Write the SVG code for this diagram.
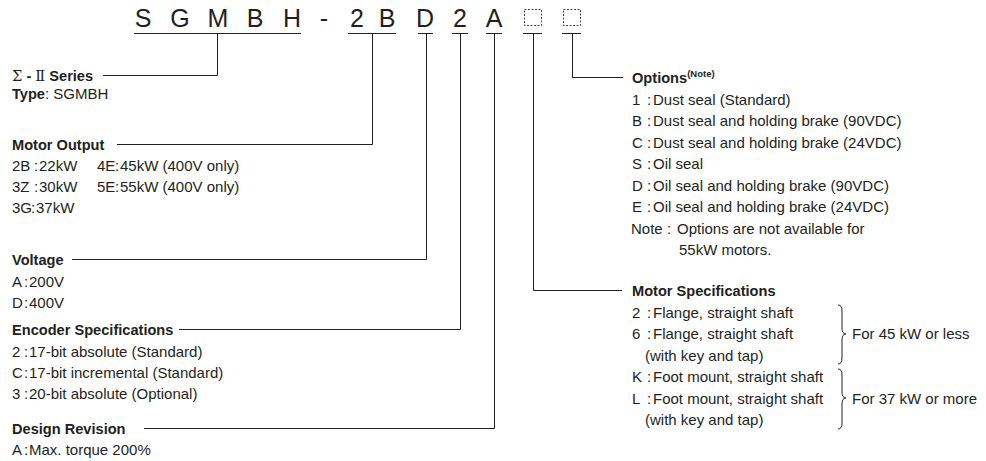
<svg xmlns="http://www.w3.org/2000/svg" width="986" height="461" viewBox="0 0 986 461">
<style>
  text { font-family: "Liberation Sans", Arial, Helvetica, sans-serif; fill: #231f20; }
  .code { font-size: 25px; text-anchor: middle; }
  .h { font-size: 14.6px; font-weight: bold; }
  .t { font-size: 15px; }
  .sup { font-size: 9.5px; font-weight: bold; }
  .serif { font-family: "DejaVu Serif", "Liberation Serif", serif; font-weight: normal; }
  .ln { fill: none; stroke: #231f20; stroke-width: 1; }
  .box { fill: none; stroke: #444; stroke-width: 1; stroke-dasharray: 2 1.5; }
</style>
<rect width="986" height="461" fill="#ffffff"/>

<g id="model-code">
  <text class="code" x="143" y="27">S</text>
  <text class="code" x="180" y="27">G</text>
  <text class="code" x="218" y="27">M</text>
  <text class="code" x="255" y="27">B</text>
  <text class="code" x="292" y="27">H</text>
  <text class="code" x="324" y="27">-</text>
  <text class="code" x="357" y="27">2</text>
  <text class="code" x="387" y="27">B</text>
  <text class="code" x="425" y="27">D</text>
  <text class="code" x="460" y="27">2</text>
  <text class="code" x="494" y="27">A</text>
  <rect class="box" x="524.5" y="9.5" width="17" height="16"/>
  <rect class="box" x="563.5" y="9.5" width="17" height="16"/>
</g>

<g id="connectors">
  <path class="ln" d="M134,33.5 H301 M348,33.5 H396 M418,33.5 H433 M452,33.5 H468 M486,33.5 H502 M523,33.5 H542 M562,33.5 H581"/>
  <path class="ln" d="M217.5,33.5 V75.5 H103"/>
  <path class="ln" d="M372.5,33.5 V144.5 H117"/>
  <path class="ln" d="M426.5,33.5 V259.5 H72"/>
  <path class="ln" d="M460.5,33.5 V329.5 H179"/>
  <path class="ln" d="M494.5,33.5 V428.5 H144"/>
  <path class="ln" d="M533.5,33.5 V290.5 H622"/>
  <path class="ln" d="M572.5,33.5 V77.5 H623"/>
</g>

<g id="series">
  <text class="h" x="12" y="81"><tspan class="serif">Σ</tspan> - <tspan class="serif">Ⅱ</tspan> Series</text>
  <text class="t" x="12" y="99"><tspan font-weight="bold" font-size="14.6">Type</tspan>: SGMBH</text>
</g>

<g id="motor-output">
  <text class="h" x="12" y="150">Motor Output</text>
  <text class="t" y="171"><tspan x="12">2B</tspan><tspan x="34">:</tspan><tspan x="39">22kW</tspan><tspan x="97">4E</tspan><tspan x="115">:</tspan><tspan x="120">45kW (400V only)</tspan></text>
  <text class="t" y="192"><tspan x="12">3Z</tspan><tspan x="34">:</tspan><tspan x="39">30kW</tspan><tspan x="97">5E</tspan><tspan x="115">:</tspan><tspan x="120">55kW (400V only)</tspan></text>
  <text class="t" y="213"><tspan x="12">3G</tspan><tspan x="31">:</tspan><tspan x="36">37kW</tspan></text>
</g>

<g id="voltage">
  <text class="h" x="12" y="265">Voltage</text>
  <text class="t" y="286.5"><tspan x="12">A</tspan><tspan x="24">:</tspan><tspan x="29">200V</tspan></text>
  <text class="t" y="307.5"><tspan x="12">D</tspan><tspan x="24">:</tspan><tspan x="29">400V</tspan></text>
</g>

<g id="encoder">
  <text class="h" x="12" y="335">Encoder Specifications</text>
  <text class="t" y="356.5"><tspan x="12">2</tspan><tspan x="24">:</tspan><tspan x="29">17-bit absolute (Standard)</tspan></text>
  <text class="t" y="377.5"><tspan x="12">C</tspan><tspan x="24">:</tspan><tspan x="29">17-bit incremental (Standard)</tspan></text>
  <text class="t" y="398.5"><tspan x="12">3</tspan><tspan x="24">:</tspan><tspan x="29">20-bit absolute (Optional)</tspan></text>
</g>

<g id="design-revision">
  <text class="h" x="12" y="434">Design Revision</text>
  <text class="t" y="455"><tspan x="12">A</tspan><tspan x="24">:</tspan><tspan x="29">Max. torque 200%</tspan></text>
</g>

<g id="options">
  <text class="h" x="632" y="83">Options<tspan class="sup" dy="-6">(Note)</tspan></text>
  <text class="t" y="104.5"><tspan x="632">1</tspan><tspan x="647">:</tspan><tspan x="653">Dust seal (Standard)</tspan></text>
  <text class="t" y="126"><tspan x="632">B</tspan><tspan x="647">:</tspan><tspan x="653">Dust seal and holding brake (90VDC)</tspan></text>
  <text class="t" y="147.5"><tspan x="632">C</tspan><tspan x="647">:</tspan><tspan x="653">Dust seal and holding brake (24VDC)</tspan></text>
  <text class="t" y="169"><tspan x="632">S</tspan><tspan x="647">:</tspan><tspan x="653">Oil seal</tspan></text>
  <text class="t" y="190.5"><tspan x="632">D</tspan><tspan x="647">:</tspan><tspan x="653">Oil seal and holding brake (90VDC)</tspan></text>
  <text class="t" y="212"><tspan x="632">E</tspan><tspan x="647">:</tspan><tspan x="653">Oil seal and holding brake (24VDC)</tspan></text>
  <text class="t" y="233.5"><tspan x="631">Note</tspan><tspan x="667">:</tspan><tspan x="677">Options are not available for</tspan></text>
  <text class="t" x="679" y="255">55kW motors.</text>
</g>

<g id="motor-spec">
  <text class="h" x="632" y="296">Motor Specifications</text>
  <text class="t" y="317.5"><tspan x="632">2</tspan><tspan x="647">:</tspan><tspan x="653">Flange, straight shaft</tspan></text>
  <text class="t" y="339"><tspan x="632">6</tspan><tspan x="647">:</tspan><tspan x="653">Flange, straight shaft</tspan></text>
  <text class="t" x="645" y="360.5">(with key and tap)</text>
  <text class="t" y="382"><tspan x="632">K</tspan><tspan x="647">:</tspan><tspan x="653">Foot mount, straight shaft</tspan></text>
  <text class="t" y="403.5"><tspan x="632">L</tspan><tspan x="647">:</tspan><tspan x="653">Foot mount, straight shaft</tspan></text>
  <text class="t" x="645" y="425">(with key and tap)</text>
  <path class="ln" d="M838,305 Q842,305 842,311 L842,328 Q842,334 846,334 Q842,334 842,340 L842,358 Q842,364 838,364"/>
  <path class="ln" d="M838,369 Q842,369 842,375 L842,392 Q842,398 846,398 Q842,398 842,404 L842,423 Q842,429 838,429"/>
  <text class="t" x="852" y="339">For 45 kW or less</text>
  <text class="t" x="852" y="403.5">For 37 kW or more</text>
</g>
</svg>
